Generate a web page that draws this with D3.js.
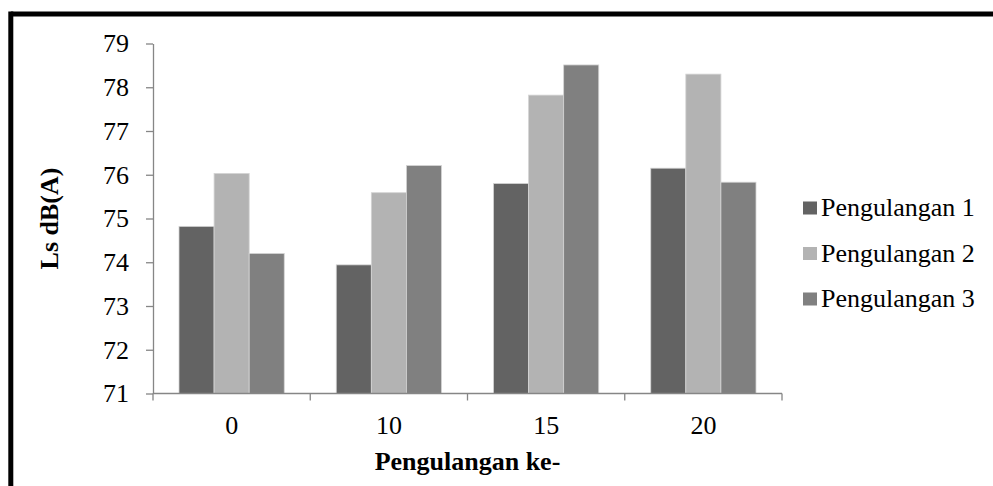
<!DOCTYPE html>
<html>
<head>
<meta charset="utf-8">
<script src="https://cdn.jsdelivr.net/npm/d3@7"></script>
<style>
  html, body { margin: 0; padding: 0; background: #fff; }
  svg { display: block; }
</style>
</head>
<body>
<div id="chart"></div>
<script>
// categories (x axis) and series
const categories = ['0', '10', '15', '20'];
const seriesNames = ['Pengulangan 1', 'Pengulangan 2', 'Pengulangan 3'];
const seriesColors = ['#636363', '#b3b3b3', '#808080'];

// values, one array per series
const pengulangan1 = [74.82, 73.94, 75.80, 76.15];
const pengulangan2 = [76.03, 75.59, 77.82, 78.30];
const pengulangan3 = [74.20, 76.21, 78.51, 75.83];

const yTicks = [71, 72, 73, 74, 75, 76, 77, 78, 79];

const width = 993, height = 486;
const FONT = "'Liberation Serif', 'Times New Roman', Times, serif";

const svg = d3.select('#chart').append('svg')
    .attr('width', width)
    .attr('height', height)
    .style('font-family', FONT);

// outer frame (only top and left visible, rest is cut off)
svg.append('line')
    .attr('x1', 10.8).attr('y1', 14).attr('x2', width + 5).attr('y2', 14)
    .attr('stroke', '#000').attr('stroke-width', 5);
svg.append('line')
    .attr('x1', 10.8).attr('y1', 11.5).attr('x2', 10.8).attr('y2', height + 5)
    .attr('stroke', '#000').attr('stroke-width', 5);

const plot = { left: 153, right: 782, top: 43.5, bottom: 393.5 };

const x0 = d3.scaleBand()
    .domain(categories)
    .range([plot.left, plot.right])
    .padding(0);

const x1 = d3.scaleBand()
    .domain(seriesNames)
    .range([26, x0.bandwidth() - 26])
    .padding(0);

const y = d3.scaleLinear()
    .domain([71, 79])
    .range([plot.bottom, plot.top]);

// build rows for the bars
const allSeries = [pengulangan1, pengulangan2, pengulangan3];
const rows = [];
categories.forEach((c, i) => {
    seriesNames.forEach((s, j) => {
        rows.push({ cat: c, series: s, value: allSeries[j][i], color: seriesColors[j] });
    });
});

// bars
svg.append('g')
    .selectAll('rect')
    .data(rows)
    .enter()
    .append('rect')
    .attr('x', d => x0(d.cat) + x1(d.series))
    .attr('y', d => y(d.value))
    .attr('width', x1.bandwidth())
    .attr('height', d => y(71) - y(d.value))
    .attr('fill', d => d.color)
    .attr('stroke', '#d4d4d4')
    .attr('stroke-width', 0.8);

// y axis
const yAxis = svg.append('g')
    .attr('transform', `translate(${plot.left},0)`)
    .call(d3.axisLeft(y).tickValues(yTicks).tickSize(7).tickPadding(17).tickSizeOuter(0));
yAxis.attr('font-family', null).attr('font-size', null);
yAxis.select('.domain').attr('stroke', '#868686').attr('stroke-width', 1.3);
yAxis.selectAll('.tick line').attr('stroke', '#868686').attr('stroke-width', 1.3);
yAxis.selectAll('.tick text')
    .style('font-family', FONT)
    .style('font-size', '26px')
    .attr('fill', '#000');

// x axis - ticks at band boundaries, labels at band centres
const xAxis = svg.append('g')
    .attr('transform', `translate(0,${plot.bottom})`);
xAxis.append('line')
    .attr('x1', plot.left).attr('x2', plot.right)
    .attr('y1', 0).attr('y2', 0)
    .attr('stroke', '#868686').attr('stroke-width', 1.3);
const boundaries = categories.map(c => x0(c)).concat([x0(categories[categories.length - 1]) + x0.bandwidth()]);
xAxis.selectAll('.xtick')
    .data(boundaries)
    .enter()
    .append('line')
    .attr('x1', d => d).attr('x2', d => d)
    .attr('y1', 0).attr('y2', 7)
    .attr('stroke', '#868686').attr('stroke-width', 1.3);
xAxis.selectAll('.xlabel')
    .data(categories)
    .enter()
    .append('text')
    .attr('x', d => x0(d) + x0.bandwidth() / 2)
    .attr('y', 40)
    .attr('text-anchor', 'middle')
    .style('font-size', '26px')
    .text(d => d);

// axis titles
svg.append('text')
    .attr('x', (plot.left + plot.right) / 2)
    .attr('y', 470)
    .attr('text-anchor', 'middle')
    .style('font-size', '26px')
    .style('font-weight', 'bold')
    .text('Pengulangan ke-');

svg.append('text')
    .attr('transform', `translate(58,${(plot.top + plot.bottom) / 2}) rotate(-90)`)
    .attr('text-anchor', 'middle')
    .style('font-size', '26px')
    .style('font-weight', 'bold')
    .text('Ls dB(A)');

// legend
const legend = svg.append('g')
    .attr('transform', 'translate(803,208)');
const items = legend.selectAll('g')
    .data(seriesNames)
    .enter()
    .append('g')
    .attr('transform', (d, i) => `translate(0,${i * 45.5})`);
items.append('rect')
    .attr('x', 0).attr('y', -6.5)
    .attr('width', 14).attr('height', 13)
    .attr('fill', (d, i) => seriesColors[i]);
items.append('text')
    .attr('x', 18)
    .attr('y', 8)
    .style('font-size', '26px')
    .text(d => d);
</script>
</body>
</html>
